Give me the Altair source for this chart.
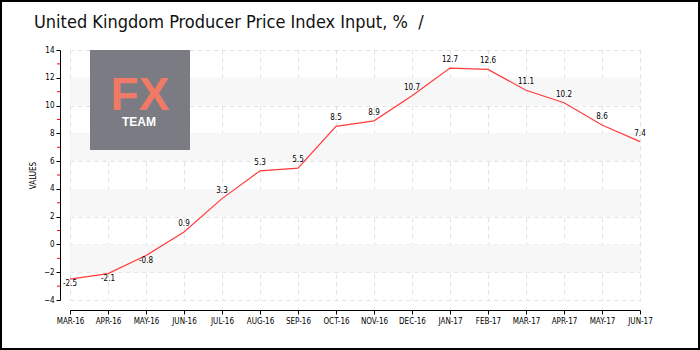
import altair as alt
import pandas as pd

months = ["MAR-16", "APR-16", "MAY-16", "JUN-16", "JUL-16", "AUG-16", "SEP-16", "OCT-16",
          "NOV-16", "DEC-16", "JAN-17", "FEB-17", "MAR-17", "APR-17", "MAY-17", "JUN-17"]
values = [-2.5, -2.1, -0.8, 0.9, 3.3, 5.3, 5.5, 8.5, 8.9, 10.7, 12.7, 12.6, 11.1, 10.2, 8.6, 7.4]
band_lo = [10, 6, 2, -2]
band_hi = [12, 8, 4, 0]
minor_ticks = [13, 11, 9, 7, 5, 3, 1, -1, -3]
y_ticks = [-4, -2, 0, 2, 4, 6, 8, 10, 12, 14]
title_text = "United Kingdom Producer Price Index Input, %\u00a0\u00a0/"

df = pd.DataFrame({"month": months, "value": values})
df["label"] = [f"{v:.1f}" for v in values]
bands = pd.DataFrame({"lo": band_lo, "hi": band_hi})
minor = pd.DataFrame({"v": minor_ticks})

FONT = "DejaVu Sans Condensed"
yscale = alt.Scale(domain=[-4, 14], nice=False, zero=False)
xscale = alt.Scale(domain=months, padding=0)

y_axis = alt.Axis(title="VALUES", values=y_ticks, grid=True, gridDash=[4, 4],
                  gridColor="#e0e0e0", domainColor="#000", tickColor="#000", tickSize=4,
                  labelOverlap=False, offset=10, labelFont=FONT, labelFontSize=8,
                  labelColor="#000", labelPadding=2,
                  titleFont=FONT, titleFontSize=8, titleFontWeight="normal", titleColor="#000",
                  titlePadding=6)
x_axis = alt.Axis(title=None, labelAngle=0, grid=True, gridDash=[4, 4], gridColor="#e0e0e0",
                  domainColor="#000", tickColor="#000", tickSize=4, offset=10,
                  labelOverlap=False, labelFont=FONT, labelFontSize=8, labelColor="#000",
                  labelPadding=3)

base = alt.Chart(df)

band_layer = alt.Chart(bands).mark_rect(color="#f7f7f7").encode(
    y=alt.Y("lo:Q", scale=yscale, axis=y_axis),
    y2="hi:Q",
    x=alt.value(0),
    x2=alt.value(570),
)

logo = alt.Chart(pd.DataFrame({"t": ["FX"]})).mark_rect(color="#74747c", opacity=0.95).encode(
    x=alt.value(20), x2=alt.value(120), y=alt.value(0), y2=alt.value(100)
)
logo_fx = alt.Chart(pd.DataFrame({"t": ["FX"]})).mark_text(
    color="#f07a66", fontSize=46, font="Liberation Sans", fontWeight="bold",
    baseline="alphabetic", align="center"
).encode(text="t:N", x=alt.value(70), y=alt.value(60))
logo_team = alt.Chart(pd.DataFrame({"t": ["TEAM"]})).mark_text(
    color="#ffffff", fontSize=12, font="Liberation Sans", fontWeight="bold",
    baseline="alphabetic", align="center"
).encode(text="t:N", x=alt.value(69), y=alt.value(76))

title = alt.Chart(pd.DataFrame({"t": [title_text]})).mark_text(
    color="#111", fontSize=18, font=FONT, baseline="alphabetic", align="left"
).encode(text="t:N", x=alt.value(-36), y=alt.value(-22))

line = base.mark_line(color="#ff3b3b", strokeWidth=1.2).encode(
    x=alt.X("month:N", scale=xscale, sort=months, axis=x_axis),
    y=alt.Y("value:Q", scale=yscale, axis=y_axis),
)

pos_labels = base.transform_filter("datum.value >= 0").mark_text(
    font=FONT, fontSize=8, color="#000", dy=-6, baseline="alphabetic"
).encode(x=alt.X("month:N", scale=xscale, sort=months, axis=x_axis),
         y=alt.Y("value:Q", scale=yscale, axis=y_axis), text="label:N")
neg_labels = base.transform_filter("datum.value < 0").mark_text(
    font=FONT, fontSize=8, color="#000", dy=5, baseline="middle"
).encode(x=alt.X("month:N", scale=xscale, sort=months, axis=x_axis),
         y=alt.Y("value:Q", scale=yscale, axis=y_axis), text="label:N")

minor_layer = alt.Chart(minor).mark_rule(color="#ff0000", strokeWidth=1).encode(
    y=alt.Y("v:Q", scale=yscale, axis=y_axis), x=alt.value(-13), x2=alt.value(-10)
)

border = alt.Chart(pd.DataFrame({"t": [1]})).mark_rect(
    fill=None, stroke="#000", strokeWidth=2, clip=False
).encode(x=alt.value(-69), x2=alt.value(629), y=alt.value(-49), y2=alt.value(299))

chart = alt.layer(
    band_layer, line, logo, logo_fx, logo_team, minor_layer, pos_labels, neg_labels, title, border
).properties(
    width=570, height=250,
    padding={"left": 70, "top": 50, "right": 60, "bottom": 50},
    autosize=alt.AutoSizeParams(type="none"),
    background="#ffffff",
).configure_view(stroke=None)

chart.save("out.html", embed_options={"renderer": "svg", "actions": False})
